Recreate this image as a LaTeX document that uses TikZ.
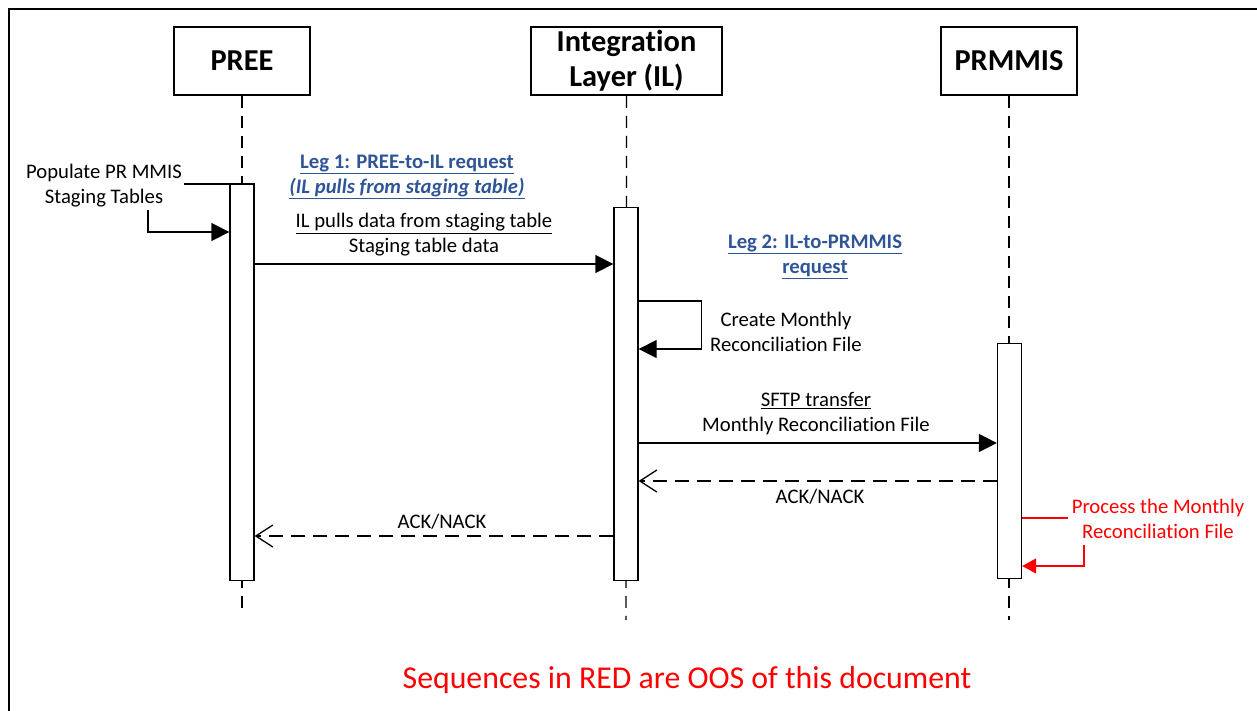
\documentclass[tikz,border=0pt]{standalone}
\usepackage{fontspec}
\setmainfont[Ligatures=NoCommon]{Carlito}
\usetikzlibrary{arrows.meta}
\definecolor{legblue}{RGB}{47,85,151}
\definecolor{oosred}{RGB}{255,0,0}

\begin{document}
\begin{tikzpicture}[x=1pt,y=-1pt,
  participant/.style={draw, line width=1.6pt, minimum height=68pt, inner sep=0pt,
    font=\fontsize{30.4}{35}\selectfont\bfseries, align=center},
  lifeline/.style={line width=1.3pt, dash pattern=on 12pt off 8pt},
  actbar/.style={draw, fill=white, line width=1.3pt, minimum width=24pt, inner sep=0pt, anchor=north},
  msg/.style={line width=1.3pt, -{Triangle[length=18pt,width=18pt]}},
  reply/.style={line width=1.3pt, dash pattern=on 14pt off 8pt, -{Straight Barb[length=17pt,width=22pt,line width=1.3pt]}},
  redmsg/.style={line width=1.3pt, draw=oosred, -{Triangle[length=14pt,width=15pt]}},
  lbl/.style={font=\fontsize{20.7}{25}\selectfont, align=center, inner sep=0pt},
  leg/.style={font=\fontsize{20.7}{25}\selectfont\bfseries, text=legblue, align=center, inner sep=0pt}]

\useasboundingbox (0,0) rectangle (1257,710);
\clip (0,0) rectangle (1257,710);

% outer frame
\draw[line width=2pt] (9,9) rectangle (1275,725);

% participants
\node[participant, minimum width=136pt] (pree) at (242,61) {PREE};
\node[participant, minimum width=191pt] (il) at (626.5,61) {Integration\\Layer (IL)};
\node[participant, minimum width=136pt] (prm) at (1009,61) {PRMMIS};

% lifeline ends
\coordinate (preeEnd) at (242,612);
\coordinate (ilEnd) at (626,620);
\coordinate (prmEnd) at (1009,620);

\draw[lifeline] (pree.south) -- (preeEnd);
\draw[lifeline] (il.south) -- (ilEnd);
\draw[lifeline] (prm.south) -- (prmEnd);

% activation bars
\node[actbar, minimum height=396pt] (preeAct) at (242,184) {};
\node[actbar, minimum height=373pt] (ilAct) at (626,207) {};
\node[actbar, minimum height=235pt] (prmAct) at (1009.5,343) {};

% PREE self call
\node[lbl] (popLbl) at (104,186) {Populate PR MMIS\\Staging Tables};
\coordinate (popStart) at (184,184);
\coordinate (popDrop) at (148,210);
\draw[line width=1.3pt] (popStart) -- (preeAct.north east);
\draw[msg] (popDrop) |- (preeAct.west |- 0,232);

% Leg 1
\node[leg] (leg1) at (407,177) {\underline{Leg 1: PREE-to-IL request}\\\underline{\itshape (IL pulls from staging table)}};
\node[lbl] (m1lbl) at (424,235) {\underline{IL pulls data from staging table}\\Staging table data};
\draw[msg] (preeAct.east |- 0,264) -- (ilAct.west |- 0,264);

% Leg 2
\node[leg] (leg2) at (815,257) {\underline{Leg 2: IL-to-PRMMIS}\\\underline{request}};

% IL self call
\draw[msg] (ilAct.east |- 0,301) -- ++(63,0) -- ++(0,48) -- (ilAct.east |- 0,349);
\node[lbl] (createLbl) at (786,332) {Create Monthly\\Reconciliation File};

% SFTP transfer
\node[lbl] (sftpLbl) at (816,414) {\underline{SFTP transfer}\\Monthly Reconciliation File};
\draw[msg] (ilAct.east |- 0,443) -- (prmAct.west |- 0,443);

% acknowledgements
\draw[reply] (prmAct.west |- 0,481) -- (ilAct.east |- 0,481);
\node[lbl] (ack2) at (820,497) {ACK/NACK};
\draw[reply] (ilAct.west |- 0,536) -- (preeAct.east |- 0,536);
\node[lbl] (ack1) at (442,522) {ACK/NACK};

% PRMMIS processing (out of scope)
\node[lbl, text=oosred] (procLbl) at (1158,519) {Process the Monthly\\Reconciliation File};
\coordinate (procEnd) at (1068,518);
\coordinate (procDrop) at (1084,545);
\draw[line width=1.3pt, oosred] (prmAct.east |- 0,518) -- (procEnd);
\draw[redmsg] (procDrop) |- (prmAct.east |- 0,566);

% note
\node[font=\fontsize{31.8}{36}\selectfont, text=oosred, inner sep=0pt] (note) at (687,680) {Sequences in RED are OOS of this document};
\end{tikzpicture}
\end{document}
